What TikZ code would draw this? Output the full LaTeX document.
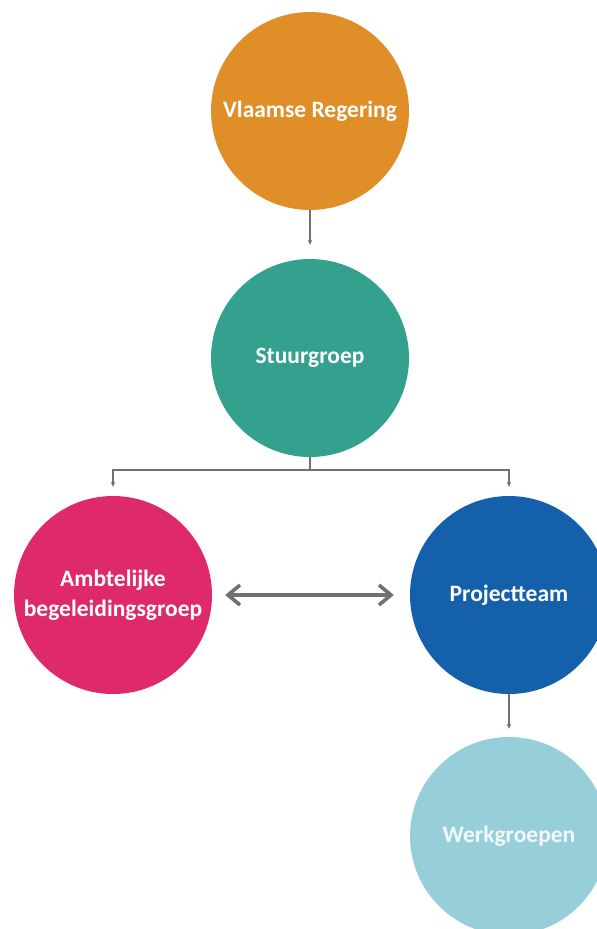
\documentclass[tikz,border=0pt]{standalone}
\usepackage{fontspec}
\setmainfont{Carlito}
\usetikzlibrary{arrows.meta}
\definecolor{cOrange}{HTML}{E08E27}
\definecolor{cTeal}{HTML}{34A08E}
\definecolor{cPink}{HTML}{DE2A6A}
\definecolor{cBlue}{HTML}{1560AB}
\definecolor{cLight}{HTML}{96CFD9}
\definecolor{cLine}{HTML}{707070}
\tikzset{
  bubble/.style={circle, minimum size=198pt, inner sep=0pt, draw=none, text=white,
    font=\bfseries\fontsize{23.5}{30}\selectfont, align=center},
  conn/.style={draw=cLine, line width=1.1pt, -{Stealth[length=5pt,width=4.5pt]}},
  dbl/.style={draw=cLine, line width=3.6pt, {Straight Barb[length=12pt,width=20pt]}-{Straight Barb[length=12pt,width=20pt]}}
}
\begin{document}
\begin{tikzpicture}[x=1pt,y=-1pt]
\useasboundingbox (0,0) rectangle (597,929);
\node[bubble, fill=cOrange] (vr) at (310,111) {Vlaamse Regering};
\node[bubble, fill=cTeal] (st) at (310,358) {Stuurgroep};
\node[bubble, fill=cPink] (ab) at (113,595) {Ambtelijke\\begeleidingsgroep};
\node[bubble, fill=cBlue] (pt) at (509,595) {Projectteam};
\node[bubble, fill=cLight, text=white!88!cLight] (wg) at (509,836) {Werkgroepen};
\coordinate (split) at (310,470);
\draw[conn] (vr.south) -- ([yshift=14pt]st.north);
\draw[conn] (st.south) -- (split) -| ([yshift=9pt]ab.north);
\draw[conn] (split) -| ([yshift=9pt]pt.north);
\draw[conn] (pt.south) -- ([yshift=8pt]wg.north);
\draw[dbl] ([xshift=13pt]ab.east) -- ([xshift=-16pt]pt.west);
\end{tikzpicture}
\end{document}
